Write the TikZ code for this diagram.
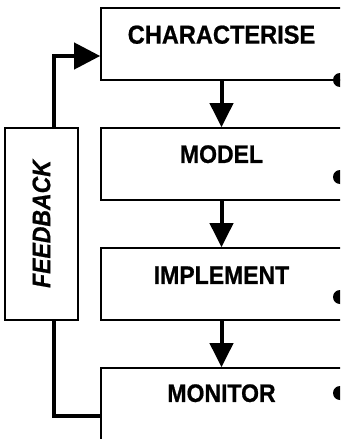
\documentclass[tikz,border=0pt]{standalone}
\usepackage{fontspec}
\setmainfont{Liberation Sans}
\newfontfamily\heavyfont{Liberation Sans}[UprightFont={* Bold},ItalicFont={* Bold Italic},FakeBold=0.8]
\usetikzlibrary{arrows.meta}
\newcommand{\tallbox}[1]{\scalebox{1}[1.1]{#1}}
\begin{document}
\begin{tikzpicture}[x=1pt,y=-1pt,
  stepbox/.style={draw=black,line width=1.6pt,fill=white,minimum width=241pt,minimum height=72pt,inner sep=0pt},
  steplabel/.style={font=\heavyfont\fontsize{23}{25}\selectfont,inner sep=0pt},
  fbbox/.style={draw=black,line width=1.6pt,fill=white,minimum width=73pt,minimum height=192pt,inner sep=0pt},
  flow/.style={line width=4pt,-{Triangle[width=23pt,length=24pt]}},
  fbline/.style={line width=4pt},
  enddot/.style={circle,fill=black,minimum size=14pt,inner sep=0pt}]
\clip (0,0) rectangle (340,439);
\fill[white] (0,0) rectangle (340,439);
% boxes
\node[stepbox] (char) at (221.5,44) {};
\node[stepbox] (model) at (221.5,164) {};
\node[stepbox] (impl) at (221.5,284) {};
\node[stepbox] (mon) at (221.5,404) {};
\node[steplabel,font=\heavyfont\fontsize{23.6}{25}\selectfont] (charT) at ([yshift=-27.5pt]char.north) {\tallbox{CHARACTERISE}};
\node[steplabel] (modelT) at ([yshift=-27pt]model.north) {\tallbox{MODEL}};
\node[steplabel] (implT) at ([yshift=-28pt]impl.north) {\tallbox{IMPLEMENT}};
\node[steplabel] (monT) at ([yshift=-26pt]mon.north) {\tallbox{MONITOR}};
% feedback box
\node[fbbox] (fb) at (41.5,224) {};
\node[steplabel,rotate=90] (fbT) at (fb.center) {\tallbox{\itshape FEEDBACK}};
% flow arrows
\draw[flow] (char.south) -- (model.north);
\draw[flow] (model.south) -- (impl.north);
\draw[flow] (impl.south) -- (mon.north);
% feedback loop
\draw[fbline,-{Triangle[width=26pt,length=26pt]}] ([xshift=12.5pt]fb.north) |- ([yshift=-12pt]char.west);
\draw[fbline] ([xshift=12.5pt]fb.south) |- ([yshift=-12pt]mon.west);
% end dots
\node[enddot] (d1) at (340,80) {};
\node[enddot] (d2) at (340,177) {};
\node[enddot] (d3) at (340,297) {};
\node[enddot] (d4) at (340,393) {};
\end{tikzpicture}
\end{document}
